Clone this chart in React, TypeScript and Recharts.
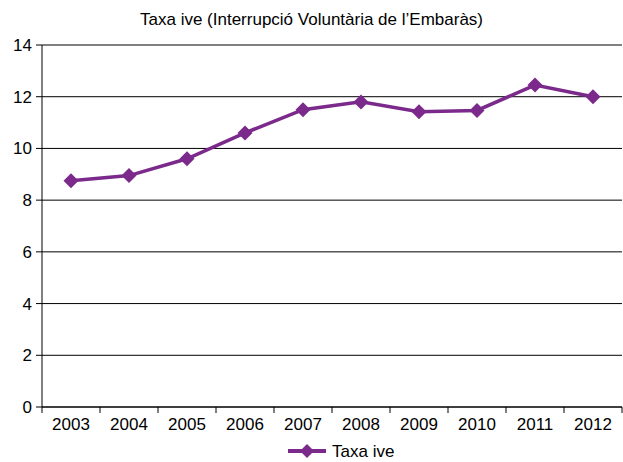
import { LineChart, Line, XAxis, YAxis, CartesianGrid, Legend } from "recharts";

const years = ["2003", "2004", "2005", "2006", "2007", "2008", "2009", "2010", "2011", "2012"];
const taxaIve = [8.75, 8.95, 9.6, 10.6, 11.5, 11.8, 11.42, 11.47, 12.45, 12.0];
const yTicks = [0, 2, 4, 6, 8, 10, 12, 14];

const data = years.map((year, i) => ({ year, value: taxaIve[i] }));

const PURPLE = "#7B2A8C";
const FONT = "'Liberation Sans', Arial, sans-serif";
const CHART_W = 623;
const Y_AXIS_W = 42;
const RIGHT = 1;
const BAND = (CHART_W - Y_AXIS_W - RIGHT) / years.length;

const Diamond = (props: any) => {
  const { cx, cy } = props;
  if (cx == null || cy == null) return null;
  const r = 7.5;
  return (
    <polygon
      points={`${cx},${cy - r} ${cx + r},${cy} ${cx},${cy + r} ${cx - r},${cy}`}
      fill={PURPLE}
    />
  );
};

const YearTick = (props: any) => {
  const { x, y, payload, index } = props;
  const left = x - BAND / 2;
  return (
    <g>
      <line x1={left} y1={y - 8} x2={left} y2={y - 2} stroke="#000" />
      {index === years.length - 1 && (
        <line x1={left + BAND} y1={y - 8} x2={left + BAND} y2={y - 2} stroke="#000" />
      )}
      <text x={x} y={y + 15} textAnchor="middle" fontSize={17} fill="#000" fontFamily={FONT}>
        {payload.value}
      </text>
    </g>
  );
};

const LegendContent = () => (
  <svg width={130} height={22}>
    <line x1={2} y1={11} x2={40} y2={11} stroke={PURPLE} strokeWidth={4} />
    <polygon points="21,4 28,11 21,18 14,11" fill={PURPLE} />
    <text x={46} y={17} fontSize={17} fontFamily={FONT} fill="#000">
      Taxa ive
    </text>
  </svg>
);

export default function App() {
  return (
    <div style={{ position: "absolute", left: 0, top: 0, width: CHART_W, height: 462, background: "#fff" }}>
      <div
        style={{
          position: "absolute",
          top: 10,
          left: 0,
          width: CHART_W,
          textAlign: "center",
          fontFamily: FONT,
          fontSize: 17,
          color: "#000",
        }}
      >
        Taxa ive (Interrupció Voluntària de l’Embaràs)
      </div>
      <LineChart
        width={CHART_W}
        height={462}
        data={data}
        margin={{ top: 45, right: RIGHT, left: 0, bottom: 0 }}
      >
        <CartesianGrid vertical={false} stroke="#000" strokeWidth={1} />
        <XAxis
          dataKey="year"
          scale="band"
          axisLine={{ stroke: "#000" }}
          tickLine={false}
          tickSize={6}
          tickMargin={2}
          height={29}
          interval={0}
          tick={<YearTick />}
        />
        <YAxis
          domain={[0, 14]}
          ticks={yTicks}
          width={Y_AXIS_W}
          axisLine={{ stroke: "#000" }}
          tickLine={{ stroke: "#000" }}
          tickSize={6}
          tickMargin={4}
          tick={{ fill: "#000", fontSize: 17, fontFamily: FONT }}
        />
        <Legend
          verticalAlign="bottom"
          content={<LegendContent />}
          wrapperStyle={{ left: 286, width: 130, bottom: -4 }}
        />
        <Line
          type="linear"
          dataKey="value"
          stroke={PURPLE}
          strokeWidth={3.5}
          dot={<Diamond />}
          activeDot={false}
          isAnimationActive={false}
        />
      </LineChart>
    </div>
  );
}
